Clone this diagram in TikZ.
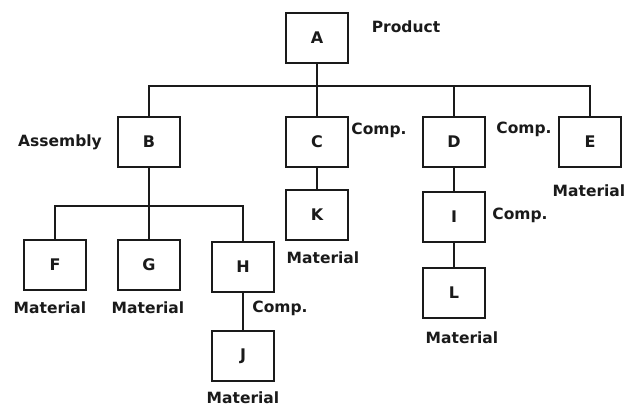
\documentclass[tikz,border=0pt]{standalone}
\usepackage{fontspec}
\setmainfont{DejaVu Sans}
\usepackage{tikz}
\usepackage{xcolor}
\definecolor{ink}{HTML}{1A1A1A}

\begin{document}
\begin{tikzpicture}[x=1pt, y=-1pt,
    part/.style={draw=ink, line width=2pt, minimum width=62pt, minimum height=50pt,
                 inner sep=0pt, font=\bfseries\fontsize{16}{18}\selectfont, text=ink},
    tag/.style={inner sep=0pt, font=\bfseries\fontsize{15.5}{18}\selectfont, text=ink},
    link/.style={draw=ink, line width=2pt}]
  % Background
  \useasboundingbox[fill=white] (0, 0) rectangle (627, 407);

  % Product level
  \node[part] (A) at (317, 38) {A};
  \coordinate (busA) at (317, 86);

  % First level
  \node[part] (B) at (149, 142) {B};
  \node[part] (C) at (317, 142) {C};
  \node[part] (D) at (454, 142) {D};
  \node[part] (E) at (590, 142) {E};

  % Below B
  \node[part] (F) at (55, 265) {F};
  \node[part] (G) at (149, 265) {G};
  \node[part] (H) at (243, 267) {H};
  \node[part] (J) at (243, 356) {J};
  \coordinate (busB) at (149, 206);

  % Below C and D
  \node[part] (K) at (317, 215) {K};
  \node[part] (I) at (454, 217) {I};
  \node[part] (L) at (454, 293) {L};

  % Connectors
  \draw[link] (A.south) -- (busA);
  \draw[link] (B.north) |- (busA) -| (E.north);
  \draw[link] (C.north) -- (C.north |- busA);
  \draw[link] (D.north) -- (D.north |- busA);
  \draw[link] (B.south) -- (busB);
  \draw[link] (F.north) |- (busB) -| (H.north);
  \draw[link] (G.north) -- (busB);
  \draw[link] (H.south) -- (J.north);
  \draw[link] (C.south) -- (K.north);
  \draw[link] (D.south) -- (I.north);
  \draw[link] (I.south) -- (L.north);

  % Labels
  \node[tag] (tProduct) at (406, 27) {Product};
  \node[tag] (tAssembly) at (60, 142) {Assembly};
  \node[tag] (tCompC) at (379, 130) {Comp.};
  \node[tag] (tCompD) at (524, 129) {Comp.};
  \node[tag] (tCompI) at (520, 215) {Comp.};
  \node[tag] (tCompH) at (280, 308) {Comp.};
  \node[tag] (tMatF) at (50, 308) {Material};
  \node[tag] (tMatG) at (148, 308) {Material};
  \node[tag] (tMatK) at (323, 258) {Material};
  \node[tag] (tMatE) at (589, 191) {Material};
  \node[tag] (tMatL) at (462, 338) {Material};
  \node[tag] (tMatJ) at (243, 398) {Material};

\end{tikzpicture}
\end{document}
